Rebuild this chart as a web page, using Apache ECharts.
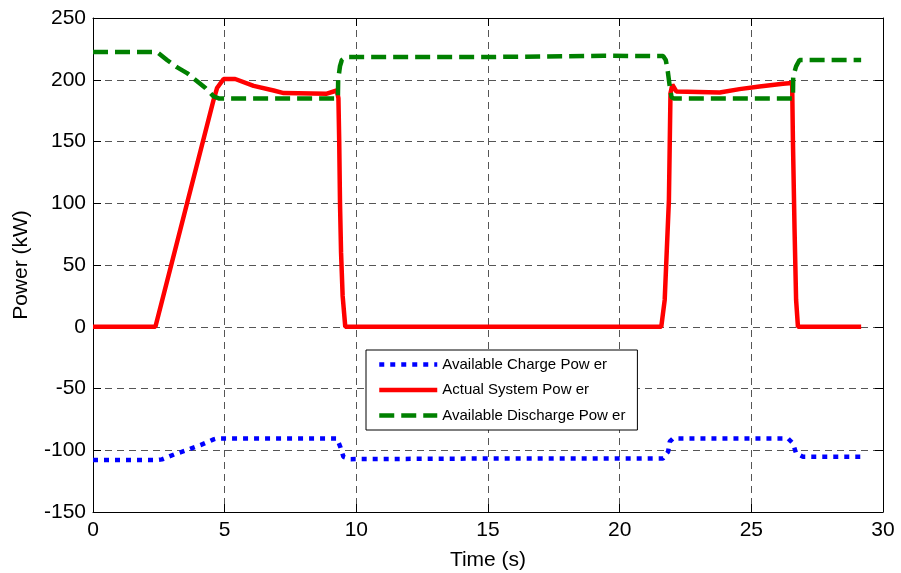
<!DOCTYPE html>
<html>
<head>
<meta charset="utf-8">
<script src="https://cdn.jsdelivr.net/npm/echarts@6/dist/echarts.min.js"></script>
<style>html,body{margin:0;padding:0;background:#fff}#c{width:901px;height:573px}</style>
</head>
<body>
<div id="c"></div>
<script>
// Time ticks and power ticks
const xTicks = [0, 5, 10, 15, 20, 25, 30];
const yTicks = [-150, -100, -50, 0, 50, 100, 150, 200, 250];

// Available Charge Power (kW)
const chargeT = [0, 2.43, 2.62, 3.13, 3.57, 4.08, 4.58, 4.71, 9.26, 9.39, 9.51, 9.77, 15, 21.65, 21.84, 21.9, 22.03, 26.39, 26.58, 26.7, 26.96, 29.17];
const chargeV = [-107.9, -107.9, -107.4, -103, -99.8, -95.8, -91.2, -90.4, -90.4, -97.2, -105.3, -107.2, -106.7, -106.6, -101.2, -93.1, -90.4, -90.4, -94.4, -102.5, -105.3, -105.3];

// Actual System Power (kW)
const actualT = [0, 2.37, 4.58, 4.71, 4.96, 5.4, 6.1, 6.86, 7.24, 8.88, 9.26, 9.32, 9.35, 9.38, 9.42, 9.48, 9.58, 21.58, 21.71, 21.87, 21.93, 22.0, 22.15, 23.8, 24.55, 25.31, 26.2, 26.55, 26.58, 26.64, 26.7, 26.77, 29.17];
const actualV = [0, 0, 183.8, 193.3, 200.6, 200.6, 195, 191.3, 189.2, 188.7, 191.3, 185, 150, 100, 60, 25, 0, 0, 21.7, 102.6, 189, 196, 190.5, 189.7, 192.4, 194.6, 196.8, 197.3, 150, 80, 21.7, 0, 0];

// Available Discharge Power (kW)
const dischargeT = [0, 2.43, 2.81, 3.2, 3.57, 4.0, 4.27, 4.58, 4.8, 9.3, 9.31, 9.38, 9.45, 9.6, 15, 19.4, 21.65, 21.75, 21.82, 21.9, 21.97, 22.05, 26.58, 26.59, 26.7, 26.83, 29.17];
const dischargeV = [222.4, 222.4, 216, 210, 205.4, 198, 193.3, 186.5, 184.8, 184.8, 200, 211, 216, 218.4, 218.4, 219.4, 219.2, 216, 208, 195, 186, 184.8, 184.8, 202.7, 210.8, 216, 216];

const seriesNames = ['Available Charge Pow er', 'Actual System Pow er', 'Available Discharge Pow er'];

const zip = (t, v) => t.map((x, i) => [x, v[i]]);

const FONT = 'Liberation Sans';
const chart = echarts.init(document.getElementById('c'), null, {renderer: 'canvas'});
const gridLine = {show: true, lineStyle: {color: '#555', width: 1, type: [7, 5]}};

chart.setOption({
  animation: false,
  backgroundColor: '#fff',
  grid: {left: 93, right: 18, top: 18, bottom: 61, containLabel: false, outerBoundsMode: 'none'},
  legend: {
    orient: 'vertical', left: 366, top: 350,
    itemWidth: 58, itemHeight: 14, itemGap: 10.5,
    padding: [7, 12, 7, 11],
    backgroundColor: '#fff', borderColor: '#000', borderWidth: 1, borderRadius: 0,
    textStyle: {fontFamily: FONT, fontSize: 15, color: '#000'},
    itemStyle: {opacity: 0},
    lineStyle: {width: 4.5},
    data: seriesNames
  },
  xAxis: [{
    type: 'value', min: 0, max: 30, interval: 5,
    name: 'Time (s)', nameLocation: 'middle', nameGap: 38,
    nameTextStyle: {fontFamily: FONT, fontSize: 21, color: '#000'},
    axisLine: {show: true, onZero: false, lineStyle: {color: '#000', width: 1}},
    axisTick: {show: true, inside: true, length: 8, lineStyle: {color: '#000'}},
    axisLabel: {fontFamily: FONT, fontSize: 21, color: '#000', margin: 8},
    splitLine: gridLine
  }, {
    type: 'value', position: 'top', min: 0, max: 30, interval: 5,
    axisLine: {show: true, onZero: false, lineStyle: {color: '#000', width: 1}},
    axisTick: {show: true, inside: true, length: 8, lineStyle: {color: '#000'}},
    axisLabel: {show: false}, splitLine: {show: false}
  }],
  yAxis: [{
    type: 'value', min: -150, max: 250, interval: 50,
    name: 'Power (kW)', nameLocation: 'middle', nameGap: 61,
    nameTextStyle: {fontFamily: FONT, fontSize: 21, color: '#000'},
    axisLine: {show: true, onZero: false, lineStyle: {color: '#000', width: 1}},
    axisTick: {show: true, inside: true, length: 8, lineStyle: {color: '#000'}},
    axisLabel: {fontFamily: FONT, fontSize: 21, color: '#000', margin: 7},
    splitLine: gridLine
  }, {
    type: 'value', position: 'right', min: -150, max: 250, interval: 50,
    axisLine: {show: true, onZero: false, lineStyle: {color: '#000', width: 1}},
    axisTick: {show: true, inside: true, length: 8, lineStyle: {color: '#000'}},
    axisLabel: {show: false}, splitLine: {show: false}
  }],
  series: [{
    name: seriesNames[0], type: 'line', data: zip(chargeT, chargeV),
    showSymbol: false, symbol: 'none', color: '#0000ff',
    lineStyle: {color: '#0000ff', width: 4.5, type: [5, 6], cap: 'butt'}
  }, {
    name: seriesNames[1], type: 'line', data: zip(actualT, actualV),
    showSymbol: false, symbol: 'none', color: '#ff0000',
    lineStyle: {color: '#ff0000', width: 4.5, type: 'solid'}
  }, {
    name: seriesNames[2], type: 'line', data: zip(dischargeT, dischargeV),
    showSymbol: false, symbol: 'none', color: '#008000',
    lineStyle: {color: '#008000', width: 4.5, type: [15, 7], cap: 'butt'}
  }]
});
</script>
</body>
</html>
